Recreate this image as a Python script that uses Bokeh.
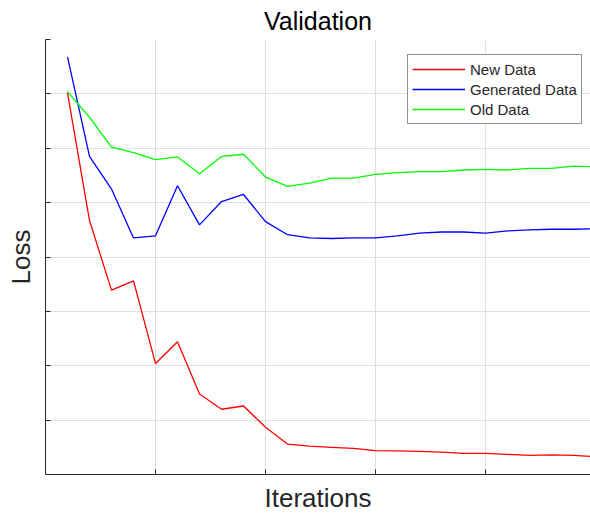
from bokeh.plotting import figure
from bokeh.models import Range1d, FixedTicker, Legend, LegendItem, CustomJSTickFormatter
from bokeh.embed import file_html
from bokeh.resources import INLINE

iterations = list(range(1, 26))
new_data = [7.02, 4.67, 3.39, 3.56, 2.04, 2.44, 1.48, 1.20, 1.26, 0.87, 0.56, 0.52, 0.50,
            0.48, 0.44, 0.435, 0.426, 0.41, 0.39, 0.39, 0.37, 0.35, 0.36, 0.35, 0.33]
generated_data = [7.68, 5.85, 5.25, 4.35, 4.39, 5.31, 4.59, 5.02, 5.15, 4.65, 4.41, 4.35, 4.34,
                  4.35, 4.35, 4.39, 4.44, 4.46, 4.46, 4.44, 4.48, 4.50, 4.51, 4.51, 4.52]
old_data = [7.04, 6.57, 6.02, 5.92, 5.79, 5.84, 5.53, 5.85, 5.89, 5.47, 5.30, 5.36, 5.45,
            5.45, 5.52, 5.55, 5.57, 5.57, 5.60, 5.61, 5.60, 5.63, 5.63, 5.67, 5.66]
x_ticks = [0, 5, 10, 15, 20, 25]
y_ticks = [0, 1, 2, 3, 4, 5, 6, 7, 8]

FONT = "Liberation Sans"
AX = "#262626"

p = figure(width=590, height=515, output_backend="svg", toolbar_location=None,
           x_range=Range1d(0, 24.77), y_range=Range1d(0, 8),
           min_border_left=45, min_border_right=0, min_border_top=0, min_border_bottom=0)

p.title.text = "Validation"
p.title.align = "center"
p.title.text_font = FONT
p.title.text_font_size = "25px"
p.title.text_font_style = "normal"
p.title.text_color = "#000000"
p.title.offset = 0
p.title.standoff = 9

p.outline_line_color = None
p.background_fill_color = "white"

for ax, ticks in ((p.xaxis, x_ticks), (p.yaxis, y_ticks)):
    ax.ticker = FixedTicker(ticks=ticks)
    ax.formatter = CustomJSTickFormatter(code="return ''")
    ax.major_label_text_font_size = "1px"
    ax.major_label_standoff = 0
    ax.major_tick_in = 5
    ax.major_tick_out = 0
    ax.minor_tick_line_color = None
    ax.axis_line_color = AX
    ax.major_tick_line_color = AX
    ax.axis_label_text_font = FONT
    ax.axis_label_text_font_size = "26px"
    ax.axis_label_text_font_style = "normal"
    ax.axis_label_text_color = AX

p.xaxis.axis_label = "Iterations"
p.yaxis.axis_label = "Loss"
p.xaxis.axis_label_standoff = 8
p.yaxis.axis_label_standoff = 10

p.xgrid.ticker = FixedTicker(ticks=x_ticks)
p.ygrid.ticker = FixedTicker(ticks=y_ticks)
p.grid.grid_line_color = "#dfdfdf"
p.grid.grid_line_width = 1

r1 = p.line(iterations, new_data, line_color="#ff0000", line_width=1.3)
r2 = p.line(iterations, generated_data, line_color="#0000ff", line_width=1.3)
r3 = p.line(iterations, old_data, line_color="#00ff00", line_width=1.3)

legend = Legend(items=[LegendItem(label="New Data", renderers=[r1]),
                       LegendItem(label="Generated Data", renderers=[r2]),
                       LegendItem(label="Old Data", renderers=[r3])],
                location=(362, 350))
legend.label_text_font = FONT
legend.label_text_font_size = "15px"
legend.label_text_color = AX
legend.border_line_color = AX
legend.border_line_width = 1
legend.background_fill_color = "white"
legend.background_fill_alpha = 1
legend.padding = 4
legend.spacing = 0
legend.margin = 0
legend.label_height = 20
legend.glyph_height = 20
legend.glyph_width = 53
legend.label_standoff = 5
p.add_layout(legend, "center")

open("out.html", "w").write(file_html(p, INLINE))
